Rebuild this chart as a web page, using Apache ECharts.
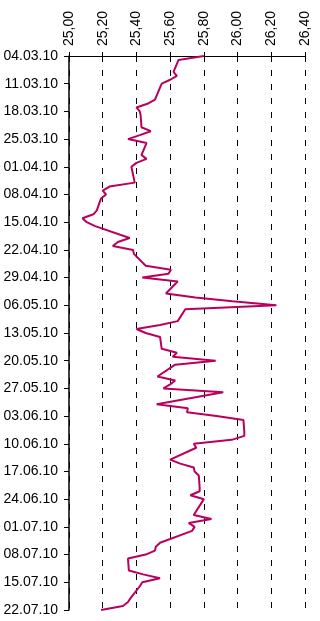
<!DOCTYPE html>
<html>
<head>
<meta charset="utf-8">
<script src="https://cdn.jsdelivr.net/npm/echarts@6/dist/echarts.min.js"></script>
<style>
  html, body { margin: 0; padding: 0; background: #ffffff; }
  #chart { width: 320px; height: 621px; }
</style>
</head>
<body>
<div id="chart"></div>
<script>
// Trading days (dd.mm.yy) and the EUR rate fixed on each of them
const tradeDates = [
  "04.03.10","05.03.10","08.03.10","09.03.10","10.03.10","11.03.10","12.03.10",
  "15.03.10","16.03.10","17.03.10","18.03.10","19.03.10",
  "22.03.10","23.03.10","24.03.10","25.03.10","26.03.10",
  "29.03.10","30.03.10","31.03.10","01.04.10","02.04.10",
  "05.04.10","06.04.10","07.04.10","08.04.10","09.04.10",
  "12.04.10","13.04.10","14.04.10","15.04.10","16.04.10",
  "19.04.10","20.04.10","21.04.10","22.04.10","23.04.10",
  "26.04.10","27.04.10","28.04.10","29.04.10","30.04.10",
  "03.05.10","04.05.10","05.05.10","06.05.10","07.05.10",
  "10.05.10","11.05.10","12.05.10","13.05.10","14.05.10",
  "17.05.10","18.05.10","19.05.10","20.05.10","21.05.10",
  "24.05.10","25.05.10","26.05.10","27.05.10","28.05.10",
  "31.05.10","01.06.10","02.06.10","03.06.10","04.06.10",
  "07.06.10","08.06.10","09.06.10","10.06.10","11.06.10",
  "14.06.10","15.06.10","16.06.10","17.06.10","18.06.10",
  "21.06.10","22.06.10","23.06.10","24.06.10","25.06.10",
  "28.06.10","29.06.10","30.06.10","01.07.10","02.07.10",
  "05.07.10","06.07.10","07.07.10","08.07.10","09.07.10",
  "12.07.10","13.07.10","14.07.10","15.07.10","16.07.10",
  "19.07.10","20.07.10","21.07.10","22.07.10"
];

const rates = [
  25.80, 25.65, 25.62, 25.64, 25.60, 25.55, 25.54,
  25.51, 25.47, 25.40, 25.42, 25.425,
  25.43, 25.485, 25.42, 25.35, 25.46,
  25.43, 25.46, 25.40, 25.37, 25.375,
  25.39, 25.24, 25.20, 25.22, 25.19,
  25.165, 25.145, 25.08, 25.105, 25.155,
  25.36, 25.29, 25.26, 25.38, 25.385,
  25.455, 25.605, 25.59, 25.435, 25.645,
  25.575, 25.75, 25.97, 26.23, 25.69,
  25.645, 25.54, 25.40, 25.455, 25.54,
  25.55, 25.64, 25.615, 25.87, 25.63,
  25.525, 25.63, 25.60, 25.56, 25.915,
  25.52, 25.705, 25.70, 25.875, 26.035,
  26.04, 26.04, 25.965, 25.74, 25.755,
  25.60, 25.66, 25.74, 25.745, 25.77,
  25.775, 25.775, 25.72, 25.80, 25.785,
  25.74, 25.845, 25.71, 25.745, 25.73,
  25.54, 25.515, 25.51, 25.455, 25.35,
  25.355, 25.44, 25.54, 25.435, 25.42,
  25.365, 25.35, 25.32, 25.19
];

// Value axis range and step
const rateMin = 25.0;
const rateMax = 26.4;
const rateStep = 0.2;

// Calendar span of the date axis (one category per calendar day)
const firstDay = "2010-03-04";
const lastDay = "2010-07-22";

function fmt(d) {
  const dd = String(d.getUTCDate()).padStart(2, "0");
  const mm = String(d.getUTCMonth() + 1).padStart(2, "0");
  const yy = String(d.getUTCFullYear()).slice(2);
  return dd + "." + mm + "." + yy;
}

const calendar = [];
for (let t = Date.parse(firstDay + "T00:00:00Z"); t <= Date.parse(lastDay + "T00:00:00Z"); t += 86400000) {
  calendar.push(fmt(new Date(t)));
}

const rateByDate = {};
tradeDates.forEach((d, i) => { rateByDate[d] = rates[i]; });
const seriesData = calendar.map(d => (d in rateByDate ? rateByDate[d] : null));

const chart = echarts.init(document.getElementById("chart"), null, { renderer: "canvas" });

chart.setOption({
  animation: false,
  backgroundColor: "#ffffff",
  grid: { left: 69, right: 15, top: 56, bottom: 11, containLabel: false },
  xAxis: {
    type: "value",
    position: "top",
    min: rateMin,
    max: rateMax,
    interval: rateStep,
    axisLine: { show: true, lineStyle: { color: "#000", width: 1 } },
    axisTick: { show: true, length: 4, inside: false, lineStyle: { color: "#000", width: 1 } },
    axisLabel: {
      rotate: -90,
      margin: 10,
      color: "#000",
      fontFamily: "Liberation Sans, Arial, sans-serif",
      fontSize: 14,
      formatter: v => v.toFixed(2).replace(".", ",")
    },
    splitLine: { show: true, lineStyle: { color: "#000", width: 1, type: [6, 8] } }
  },
  yAxis: {
    type: "category",
    inverse: true,
    boundaryGap: false,
    data: calendar,
    axisLine: { show: true, lineStyle: { color: "#000", width: 1.5 } },
    axisTick: { show: true, length: 5, interval: 6, lineStyle: { color: "#000", width: 1 } },
    axisLabel: {
      interval: 6,
      margin: 11,
      color: "#000",
      fontFamily: "Liberation Sans, Arial, sans-serif",
      fontSize: 14
    },
    splitLine: { show: false }
  },
  series: [{
    type: "line",
    data: seriesData,
    connectNulls: true,
    showSymbol: false,
    symbol: "none",
    lineStyle: { color: "#BA005E", width: 2 },
    itemStyle: { color: "#BA005E" }
  }]
});
</script>
</body>
</html>
